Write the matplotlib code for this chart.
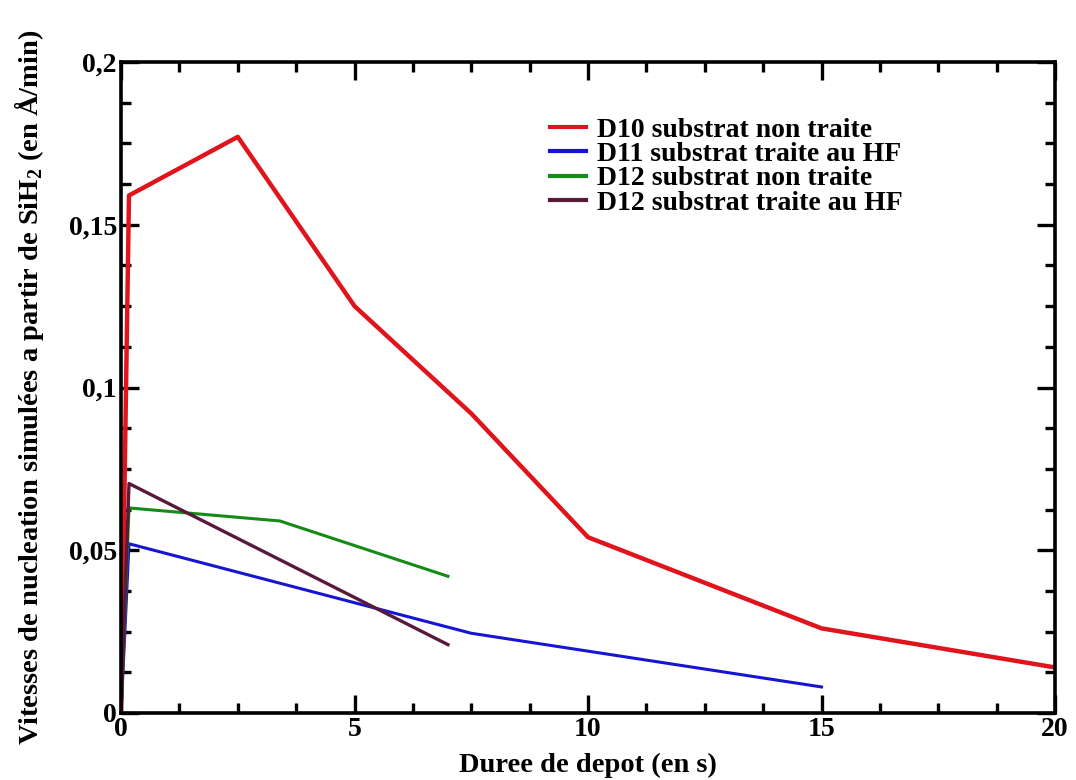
import numpy as np
import matplotlib.pyplot as plt
from matplotlib.ticker import MultipleLocator, FuncFormatter

plt.rcParams['font.family'] = ['Liberation Serif', 'DejaVu Serif']
plt.rcParams['mathtext.fontset'] = 'custom'
plt.rcParams['mathtext.rm'] = 'Liberation Serif:bold'
plt.rcParams['mathtext.bf'] = 'Liberation Serif:bold'

# D10 substrat non traite
d10_t = [0, 0.17, 2.5, 5, 7.5, 10, 15, 20]
d10_v = [0, 0.159, 0.177, 0.125, 0.092, 0.054, 0.026, 0.014]

# D11 substrat traite au HF
d11_t = [0, 0.17, 7.5, 15]
d11_v = [0, 0.052, 0.0245, 0.008]

# D12 substrat non traite
d12_t = [0, 0.17, 3.4, 7]
d12_v = [0, 0.063, 0.059, 0.042]

# D12 substrat traite au HF
d12hf_t = [0, 0.17, 7]
d12hf_v = [0, 0.0705, 0.021]

labels = ['D10 substrat non traite', 'D11 substrat traite au HF',
          'D12 substrat non traite', 'D12 substrat traite au HF']

fig = plt.figure(figsize=(10.76, 7.8), dpi=100)
ax = fig.add_axes([0.1125, 0.0859, 0.868, 0.8346])

ax.plot(d10_t, d10_v, color='#e0141c', lw=3.2, label=labels[0])
ax.plot(d11_t, d11_v, color='#1616d2', lw=2.2, label=labels[1])
ax.plot(d12_t, d12_v, color='#168a16', lw=2.2, label=labels[2])
ax.plot(d12hf_t, d12hf_v, color='#581a38', lw=2.4, label=labels[3])

ax.set_xlim(0, 20)
ax.set_ylim(0, 0.2)
ax.xaxis.set_major_locator(MultipleLocator(5))
ax.xaxis.set_minor_locator(MultipleLocator(1.25))
ax.yaxis.set_major_locator(MultipleLocator(0.05))
ax.yaxis.set_minor_locator(MultipleLocator(0.0125))


def comma_fmt(v, pos):
    s = ('%.2f' % v).rstrip('0').rstrip('.')
    return s.replace('.', ',')


ax.yaxis.set_major_formatter(FuncFormatter(comma_fmt))
ax.xaxis.set_major_formatter(FuncFormatter(comma_fmt))

for s in ax.spines.values():
    s.set_linewidth(2.6)
ax.tick_params(which='both', direction='in', top=True, right=True,
               labelsize=20, width=2.4)
ax.tick_params(which='major', length=13, pad=3)
ax.tick_params(which='minor', length=7.5)
for lab in ax.get_xticklabels() + ax.get_yticklabels():
    lab.set_fontweight('bold')

ax.set_xlabel('Duree de depot (en s)', fontsize=20.5, fontweight='bold', labelpad=8)
ax.set_ylabel('Vitesses de nucleation simulées a partir de SiH$_2$ (en Å/min)',
              fontsize=20.5, fontweight='bold', labelpad=16)

leg = ax.legend(loc='upper left', bbox_to_anchor=(0.459, 0.915), frameon=False,
                prop={'family': 'Liberation Serif', 'weight': 'bold', 'size': 20},
                handlelength=1.3, handletextpad=0.4, labelspacing=-0.04,
                borderpad=0, borderaxespad=0)
for line in leg.get_lines():
    line.set_linewidth(3)

fig.savefig('out.png', dpi=100)
